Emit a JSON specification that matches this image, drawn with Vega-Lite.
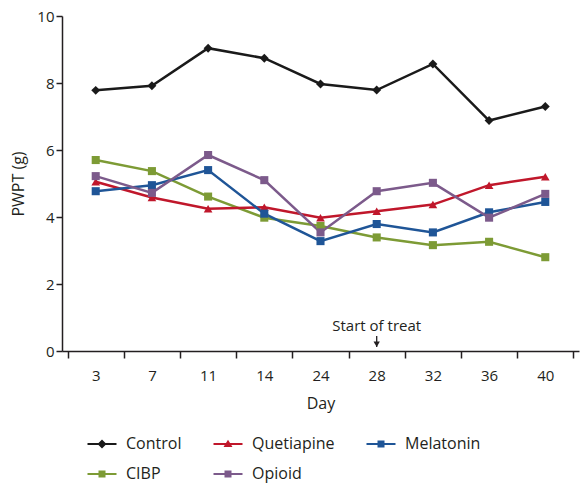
{
  "$schema": "https://vega.github.io/schema/vega-lite/v6.json",
  "width": 517,
  "height": 335,
  "padding": {"left": 10, "top": 9, "right": 2, "bottom": 2},
  "config": {
    "view": {"stroke": null},
    "font": "Open Sans",
    "axis": {"domainColor": "#231f20", "tickColor": "#231f20", "labelColor": "#231f20", "titleColor": "#231f20", "grid": false, "labelFontSize": 15, "titleFontSize": 16, "titleFontWeight": "normal", "domainWidth": 1.5, "tickWidth": 1.5}
  },
  "datasets": {
    "series": [
      {"day": "3", "group": "Control", "pwpt": 7.78},
      {"day": "7", "group": "Control", "pwpt": 7.92},
      {"day": "11", "group": "Control", "pwpt": 9.04},
      {"day": "14", "group": "Control", "pwpt": 8.74},
      {"day": "24", "group": "Control", "pwpt": 7.97},
      {"day": "28", "group": "Control", "pwpt": 7.79},
      {"day": "32", "group": "Control", "pwpt": 8.57},
      {"day": "36", "group": "Control", "pwpt": 6.88},
      {"day": "40", "group": "Control", "pwpt": 7.30},
      {"day": "3", "group": "CIBP", "pwpt": 5.70},
      {"day": "7", "group": "CIBP", "pwpt": 5.37},
      {"day": "11", "group": "CIBP", "pwpt": 4.61},
      {"day": "14", "group": "CIBP", "pwpt": 3.98},
      {"day": "24", "group": "CIBP", "pwpt": 3.73},
      {"day": "28", "group": "CIBP", "pwpt": 3.39},
      {"day": "32", "group": "CIBP", "pwpt": 3.16},
      {"day": "36", "group": "CIBP", "pwpt": 3.26},
      {"day": "40", "group": "CIBP", "pwpt": 2.80},
      {"day": "3", "group": "Quetiapine", "pwpt": 5.05},
      {"day": "7", "group": "Quetiapine", "pwpt": 4.58},
      {"day": "11", "group": "Quetiapine", "pwpt": 4.25},
      {"day": "14", "group": "Quetiapine", "pwpt": 4.29},
      {"day": "24", "group": "Quetiapine", "pwpt": 3.98},
      {"day": "28", "group": "Quetiapine", "pwpt": 4.17},
      {"day": "32", "group": "Quetiapine", "pwpt": 4.37},
      {"day": "36", "group": "Quetiapine", "pwpt": 4.95},
      {"day": "40", "group": "Quetiapine", "pwpt": 5.20},
      {"day": "3", "group": "Melatonin", "pwpt": 4.77},
      {"day": "7", "group": "Melatonin", "pwpt": 4.95},
      {"day": "11", "group": "Melatonin", "pwpt": 5.40},
      {"day": "14", "group": "Melatonin", "pwpt": 4.10},
      {"day": "24", "group": "Melatonin", "pwpt": 3.28},
      {"day": "28", "group": "Melatonin", "pwpt": 3.79},
      {"day": "32", "group": "Melatonin", "pwpt": 3.54},
      {"day": "36", "group": "Melatonin", "pwpt": 4.14},
      {"day": "40", "group": "Melatonin", "pwpt": 4.45},
      {"day": "3", "group": "Opioid", "pwpt": 5.22},
      {"day": "7", "group": "Opioid", "pwpt": 4.72},
      {"day": "11", "group": "Opioid", "pwpt": 5.85},
      {"day": "14", "group": "Opioid", "pwpt": 5.10},
      {"day": "24", "group": "Opioid", "pwpt": 3.54},
      {"day": "28", "group": "Opioid", "pwpt": 4.77},
      {"day": "32", "group": "Opioid", "pwpt": 5.02},
      {"day": "36", "group": "Opioid", "pwpt": 3.98},
      {"day": "40", "group": "Opioid", "pwpt": 4.69}
    ],
    "note": [
      {"day": "28", "ytext": 0.75, "ytop": 0.45, "ybottom": 0.12, "yhead": 0.2, "label": "Start of treat"}
    ]
  },
  "encoding": {
    "x": {
      "field": "day", "type": "nominal",
      "sort": ["3", "7", "11", "14", "24", "28", "32", "36", "40"],
      "scale": {"type": "band", "domain": ["3", "7", "11", "14", "24", "28", "32", "36", "40"], "paddingInner": 0, "paddingOuter": 0.1},
      "axis": {"title": "Day", "labelAngle": 0, "tickBand": "extent", "tickSize": 7, "labelPadding": 10, "titlePadding": 12}
    }
  },
  "layer": [
    {
      "data": {"name": "series"},
      "mark": {"type": "line", "strokeWidth": 2.5},
      "encoding": {
        "y": {"field": "pwpt", "type": "quantitative", "scale": {"domain": [0, 10]}, "axis": {"title": "PWPT (g)", "values": [0, 2, 4, 6, 8, 10], "tickSize": 6, "titlePadding": 10}},
        "color": {
          "field": "group", "type": "nominal",
          "scale": {"domain": ["Control", "Quetiapine", "Melatonin", "CIBP", "Opioid"], "range": ["#1a1a1a", "#c0172b", "#1f5597", "#7d9b35", "#7c5a8b"]},
          "legend": {
            "title": null, "orient": "none", "legendX": 20, "legendY": 420, "direction": "horizontal", "columns": 3, "labelFontSize": 16, "labelColor": "#231f20",
            "symbolSize": 100, "symbolOffset": 12, "labelOffset": 16, "columnPadding": 26, "rowPadding": 14,
            "encode": {"symbols": {"update": {
              "shape": {"signal": "datum.value === 'Control' ? 'M-2.9,-0.2H2.9V0.2H-2.9Z M0,-0.9L0.9,0L0,0.9L-0.9,0Z' : datum.value === 'Quetiapine' ? 'M-2.9,-0.2H2.9V0.2H-2.9Z M0,-0.85L0.9,0.6L-0.9,0.6Z' : 'M-2.9,-0.2H2.9V0.2H-2.9Z M-0.7,-0.7H0.7V0.7H-0.7Z'"},
              "fill": {"signal": "scale('color', datum.value)"},
              "stroke": {"value": "transparent"},
              "strokeWidth": {"value": 0}
            }}}
          }
        }
      }
    },
    {
      "data": {"name": "series"},
      "transform": [{"filter": "datum.group === 'Control'"}],
      "mark": {"type": "point", "shape": "diamond", "filled": true, "opacity": 1, "size": 80},
      "encoding": {"y": {"field": "pwpt", "type": "quantitative"}, "color": {"field": "group", "type": "nominal"}}
    },
    {
      "data": {"name": "series"},
      "transform": [{"filter": "datum.group === 'Quetiapine'"}],
      "mark": {"type": "point", "shape": "triangle-up", "filled": true, "opacity": 1, "size": 75},
      "encoding": {"y": {"field": "pwpt", "type": "quantitative"}, "color": {"field": "group", "type": "nominal"}}
    },
    {
      "data": {"name": "series"},
      "transform": [{"filter": "datum.group !== 'Control' && datum.group !== 'Quetiapine'"}],
      "mark": {"type": "point", "shape": "square", "filled": true, "opacity": 1, "size": 65},
      "encoding": {"y": {"field": "pwpt", "type": "quantitative"}, "color": {"field": "group", "type": "nominal"}}
    },
    {
      "data": {"name": "note"},
      "mark": {"type": "text", "fontSize": 15, "color": "#231f20"},
      "encoding": {"y": {"field": "ytext", "type": "quantitative"}, "text": {"field": "label"}}
    },
    {
      "data": {"name": "note"},
      "mark": {"type": "rule", "strokeWidth": 1.3, "color": "#231f20"},
      "encoding": {"y": {"field": "ytop", "type": "quantitative"}, "y2": {"field": "ybottom"}}
    },
    {
      "data": {"name": "note"},
      "mark": {"type": "point", "shape": "triangle-down", "filled": true, "size": 40, "color": "#231f20", "opacity": 1},
      "encoding": {"y": {"field": "yhead", "type": "quantitative"}}
    }
  ]
}
